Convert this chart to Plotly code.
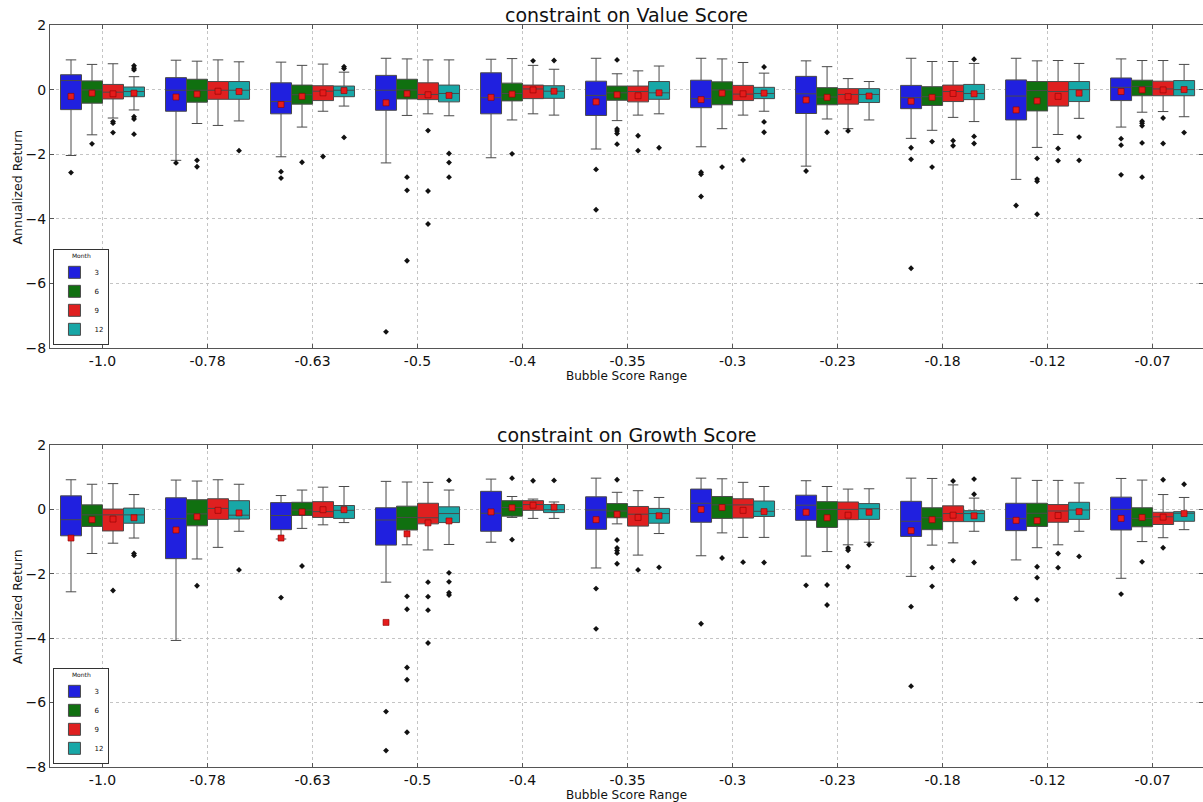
import plotly.graph_objects as go

categories = ["-1.0", "-0.78", "-0.63", "-0.5", "-0.4", "-0.35", "-0.3", "-0.23", "-0.18", "-0.12", "-0.07"]
months = ["3", "6", "9", "12"]
month_colors = ["#2020df", "#107010", "#df2020", "#18a7a7"]

# ---------------- constraint on Value Score ----------------
value_upper = [
    [0.92, 0.91, 0.85, 0.97, 0.94, 0.97, 0.97, 0.89, 0.97, 0.97, 0.95],
    [0.78, 0.88, 0.75, 0.95, 0.96, 0.49, 0.95, 0.71, 0.87, 0.89, 0.90],
    [0.80, 0.92, 0.79, 0.92, 0.75, 0.58, 0.84, 0.34, 0.87, 0.90, 0.90],
    [0.40, 0.86, 0.54, 0.92, 0.63, 0.73, 0.51, 0.25, 0.81, 0.81, 0.78],
]
value_q3 = [
    [0.46, 0.37, 0.21, 0.44, 0.52, 0.26, 0.29, 0.41, 0.13, 0.30, 0.36],
    [0.27, 0.32, 0.14, 0.32, 0.20, 0.11, 0.24, 0.06, 0.09, 0.25, 0.29],
    [0.16, 0.25, 0.12, 0.21, 0.14, 0.11, 0.13, 0.03, 0.14, 0.25, 0.26],
    [0.08, 0.25, 0.11, 0.14, 0.12, 0.25, 0.07, 0.03, 0.16, 0.25, 0.28],
]
value_median = [
    [0.28, -0.02, -0.37, -0.02, -0.25, -0.18, -0.28, -0.13, -0.25, -0.20, 0.07],
    [-0.01, -0.02, -0.16, -0.01, -0.12, -0.10, -0.01, -0.23, -0.22, -0.03, 0.10],
    [-0.08, -0.02, -0.05, -0.15, 0.02, -0.06, -0.14, -0.15, -0.06, -0.06, 0.02],
    [-0.06, -0.02, -0.02, -0.12, -0.05, -0.10, -0.12, -0.15, -0.12, 0.00, 0.00],
]
value_q1 = [
    [-0.62, -0.67, -0.75, -0.64, -0.75, -0.80, -0.56, -0.74, -0.59, -0.94, -0.34],
    [-0.42, -0.39, -0.45, -0.29, -0.35, -0.33, -0.47, -0.47, -0.49, -0.66, -0.19],
    [-0.29, -0.30, -0.34, -0.31, -0.28, -0.38, -0.34, -0.45, -0.37, -0.51, -0.19],
    [-0.22, -0.30, -0.22, -0.38, -0.27, -0.30, -0.28, -0.40, -0.31, -0.37, -0.19],
]
value_lower = [
    [-2.04, -2.19, -2.08, -2.27, -2.11, -1.84, -1.77, -2.37, -1.51, -2.78, -1.16],
    [-1.40, -1.05, -1.16, -0.80, -0.94, -0.96, -1.21, -0.91, -1.26, -1.79, -0.70],
    [-0.88, -1.11, -0.67, -0.75, -0.75, -0.79, -0.79, -1.21, -0.86, -1.39, -0.68],
    [-0.63, -0.97, -0.51, -0.81, -0.79, -0.75, -0.67, -0.94, -0.99, -0.89, -0.84],
]
value_mean = [
    [-0.21, -0.23, -0.46, -0.41, -0.24, -0.38, -0.31, -0.32, -0.36, -0.63, -0.06],
    [-0.11, -0.14, -0.21, -0.13, -0.14, -0.16, -0.11, -0.24, -0.24, -0.35, -0.01],
    [-0.13, -0.05, -0.10, -0.16, -0.01, -0.19, -0.13, -0.22, -0.12, -0.21, -0.01],
    [-0.11, -0.06, -0.03, -0.18, -0.05, -0.10, -0.11, -0.20, -0.13, -0.11, 0.00],
]
value_outliers = [
    [[-2.57, -5.30], [-2.27], [-2.54, -2.74], [-7.50], [], [-2.47, -3.72], [-2.56, -2.62, -3.31],
     [-2.52], [-1.80, -2.16, -5.53], [-3.59], [-1.52, -1.72, -2.64]],
    [[-1.68], [-2.19, -2.39], [-2.25], [-2.71, -3.12, -5.30], [-1.99], [0.92, -1.22, -1.28, -1.36, -1.69],
     [-2.40], [-1.32], [-1.61, -2.40], [-2.13, -2.77, -2.84, -3.86], [-0.98, -1.04, -1.12, -1.65, -2.71]],
    [[-0.99, -1.04, -1.33], [], [-2.07], [-1.27, -3.14, -4.16], [0.89], [-1.43, -1.89], [-2.18],
     [-1.28], [-1.58, -1.74], [-1.82, -2.20], [-0.88, -1.67]],
    [[0.74, 0.66, 0.61, -0.84, -0.91, -1.38], [-1.89], [0.71, 0.65, -1.48], [-1.98, -2.26, -2.71], [0.90],
     [-1.80], [0.70, -1.00, -1.32], [], [0.94, -1.45, -1.67], [-1.47, -2.19], [-1.33]],
]

# ---------------- constraint on Growth Score ----------------
growth_upper = [
    [0.92, 0.91, 0.43, 0.87, 0.94, 0.97, 0.97, 0.89, 0.97, 0.97, 0.96],
    [0.78, 0.88, 0.60, 0.85, 0.40, 0.53, 0.95, 0.71, 0.96, 0.90, 0.91],
    [0.80, 0.92, 0.69, 0.84, 0.32, 0.58, 0.84, 0.63, 0.76, 0.90, 0.46],
    [0.46, 0.78, 0.71, 0.60, 0.23, 0.37, 0.71, 0.64, 0.35, 0.82, 0.37],
]
growth_q3 = [
    [0.42, 0.36, 0.21, 0.05, 0.56, 0.39, 0.63, 0.44, 0.25, 0.19, 0.38],
    [0.14, 0.30, 0.22, 0.10, 0.27, 0.18, 0.40, 0.24, 0.05, 0.19, 0.05],
    [0.01, 0.33, 0.24, 0.19, 0.27, 0.09, 0.33, 0.23, 0.11, 0.15, -0.09],
    [0.04, 0.27, 0.12, 0.08, 0.15, 0.03, 0.26, 0.18, -0.04, 0.22, -0.07],
]
growth_median = [
    [-0.32, -0.29, -0.19, -0.33, -0.12, -0.02, 0.19, 0.13, -0.37, -0.29, 0.00],
    [-0.17, -0.14, -0.02, -0.25, 0.06, -0.05, 0.14, 0.00, -0.26, -0.12, -0.28],
    [-0.17, 0.03, -0.07, -0.26, 0.15, -0.15, 0.14, 0.00, -0.13, -0.05, -0.23],
    [-0.17, -0.18, -0.03, -0.13, -0.01, -0.13, -0.06, 0.02, -0.13, -0.02, -0.12],
]
growth_q1 = [
    [-0.82, -1.53, -0.63, -1.11, -0.68, -0.62, -0.40, -0.34, -0.84, -0.66, -0.64],
    [-0.53, -0.51, -0.19, -0.64, -0.21, -0.26, -0.28, -0.56, -0.63, -0.53, -0.54],
    [-0.67, -0.31, -0.25, -0.45, -0.03, -0.52, -0.27, -0.32, -0.38, -0.40, -0.47],
    [-0.43, -0.30, -0.28, -0.41, -0.10, -0.43, -0.22, -0.31, -0.38, -0.31, -0.37],
]
growth_lower = [
    [-2.56, -4.07, -0.92, -2.26, -1.02, -1.82, -1.44, -1.45, -2.08, -1.57, -2.14],
    [-1.37, -1.54, -0.59, -1.10, -0.25, -0.45, -0.73, -1.31, -1.11, -1.19, -1.00],
    [-1.05, -1.18, -0.48, -1.26, -0.28, -1.42, -0.87, -1.10, -1.04, -1.10, -0.88],
    [-0.89, -0.68, -0.41, -1.09, -0.28, -0.75, -0.87, -1.02, -0.68, -0.68, -0.63],
]
growth_mean = [
    [-0.89, -0.64, -0.89, -3.51, -0.08, -0.32, 0.00, -0.09, -0.66, -0.34, -0.28],
    [-0.32, -0.23, -0.08, -0.76, 0.05, -0.15, 0.06, -0.26, -0.32, -0.35, -0.25],
    [-0.30, -0.03, -0.01, -0.42, 0.13, -0.25, -0.03, -0.18, -0.18, -0.19, -0.24],
    [-0.26, -0.11, -0.01, -0.36, 0.07, -0.20, -0.07, -0.09, -0.20, -0.07, -0.13],
]
growth_outliers = [
    [[], [], [-2.74], [-6.28, -7.49], [], [-2.46, -3.71], [-3.55], [-2.36], [-3.02, -5.49], [-2.77], [-2.63]],
    [[-5.06], [-2.37], [-1.76], [-2.70, -3.10, -4.91, -5.29, -6.92], [0.97, -0.94],
     [0.92, -0.95, -1.20, -1.28, -1.36, -1.69], [-1.51], [-2.35, -2.97], [-1.81, -2.39],
     [-1.78, -2.12, -2.81], [-1.63]],
    [[-2.52], [], [], [-2.26, -2.71, -3.13, -4.15], [0.89], [-1.88], [-1.64], [-1.20, -1.27, -1.78],
     [0.88, -1.59], [-1.37, -1.81], [0.92, -1.19]],
    [[-1.37, -1.43], [-1.88], [], [0.90, -1.97, -2.25, -2.59, -2.66], [0.90], [-1.80], [-1.65], [-1.10],
     [0.94, 0.47, -1.65], [-1.46], [0.78]],
]

panels = [
    ("constraint on Value Score", value_upper, value_q3, value_median, value_q1, value_lower, value_mean, value_outliers),
    ("constraint on Growth Score", growth_upper, growth_q3, growth_median, growth_q1, growth_lower, growth_mean, growth_outliers),
]

offsets = [-0.3, -0.1, 0.1, 0.3]
box_width = 0.2

fig = go.Figure()
axis_names = [("x", "y"), ("x2", "y2")]
legend_names = ["legend", "legend2"]

for p, (title, upper, q3, med, q1, lower, mean, outl) in enumerate(panels):
    xa, ya = axis_names[p]
    for m in range(4):
        xs = [i + offsets[m] for i in range(len(categories))]
        fig.add_trace(go.Box(
            x=xs, q1=q1[m], median=med[m], q3=q3[m],
            lowerfence=lower[m], upperfence=upper[m],
            width=box_width, whiskerwidth=0.5,
            fillcolor=month_colors[m],
            line=dict(color="#4a4a4a", width=1),
            name=months[m], legend=legend_names[p],
            xaxis=xa, yaxis=ya, hoverinfo="skip",
        ))
    for m in range(4):
        ox, oy = [], []
        for i in range(len(categories)):
            for v in outl[m][i]:
                ox.append(i + offsets[m])
                oy.append(v)
        fig.add_trace(go.Scatter(
            x=ox, y=oy, mode="markers",
            marker=dict(symbol="diamond", size=4.5, color="#111111"),
            showlegend=False, xaxis=xa, yaxis=ya, hoverinfo="skip",
        ))
    for m in range(4):
        xs = [i + offsets[m] for i in range(len(categories))]
        fig.add_trace(go.Scatter(
            x=xs, y=mean[m], mode="markers",
            marker=dict(symbol="square", size=6, color="#e51b1b",
                        line=dict(color="#8a0000", width=0.6)),
            showlegend=False, xaxis=xa, yaxis=ya, hoverinfo="skip",
        ))

font_family = "DejaVu Sans"
axis_common = dict(
    showline=True, linecolor="#555555", linewidth=1, mirror="ticks",
    showgrid=True, gridcolor="#c4c4c4", griddash="dot", gridwidth=1,
    ticks="inside", ticklen=4, tickcolor="#555555",
    zeroline=False, automargin=False,
    tickfont=dict(family=font_family, size=14, color="#111111"),
)
xaxis_common = dict(axis_common, range=[-0.5, 10.48],
                    tickmode="array", tickvals=list(range(len(categories))), ticktext=categories)
yaxis_common = dict(axis_common, range=[-8, 2], tickmode="array", tickvals=[-8, -6, -4, -2, 0, 2])

top_dom = [0.5647, 1.0]
bot_dom = [0.0, 0.434]

legend_common = dict(
    title=dict(text="Month", side="top center", font=dict(size=6, family=font_family)),
    font=dict(size=7, family=font_family),
    xanchor="left", yanchor="bottom",
    bgcolor="white", bordercolor="#333333", borderwidth=1,
    itemwidth=30, tracegroupgap=0, orientation="v",
)

fig.update_layout(
    width=1203, height=802,
    margin=dict(l=50, r=0, t=25, b=35, autoexpand=False),
    paper_bgcolor="white", plot_bgcolor="white",
    boxmode="overlay",
    font=dict(family=font_family, color="#111111"),
    xaxis=dict(xaxis_common, domain=[0, 1], anchor="y"),
    yaxis=dict(yaxis_common, domain=top_dom, anchor="x"),
    xaxis2=dict(xaxis_common, domain=[0, 1], anchor="y2"),
    yaxis2=dict(yaxis_common, domain=bot_dom, anchor="x2"),
    legend=dict(legend_common, x=0.003, y=top_dom[0] + 0.004),
    legend2=dict(legend_common, x=0.003, y=bot_dom[0] + 0.004),
    showlegend=True,
)

ann = []
title_y = [1.0135, 0.4474]
xlab_y = [0.5264, -0.0378]
ylab_y = [(top_dom[0] + top_dom[1]) / 2, (bot_dom[0] + bot_dom[1]) / 2]
for p in range(2):
    ann.append(dict(text=panels[p][0], x=0.5, y=title_y[p], xref="paper", yref="paper",
                    showarrow=False, xanchor="center", yanchor="middle",
                    font=dict(size=19, family=font_family, color="#111111")))
    ann.append(dict(text="Bubble Score Range", x=0.5, y=xlab_y[p], xref="paper", yref="paper",
                    showarrow=False, xanchor="center", yanchor="middle",
                    font=dict(size=12, family=font_family, color="#111111")))
    ann.append(dict(text="Annualized Return", x=-0.0278, y=ylab_y[p], xref="paper", yref="paper",
                    showarrow=False, xanchor="center", yanchor="middle", textangle=-90,
                    font=dict(size=12.5, family=font_family, color="#111111")))
fig.update_layout(annotations=ann)

# remove the page's default 8px body margin so the figure fills the 1203x802 window exactly
fig.write_html(
    "out.html",
    config={"displayModeBar": False},
    post_script="document.body.style.margin='0';document.body.style.padding='0';"
                "document.body.style.overflow='hidden';",
)
